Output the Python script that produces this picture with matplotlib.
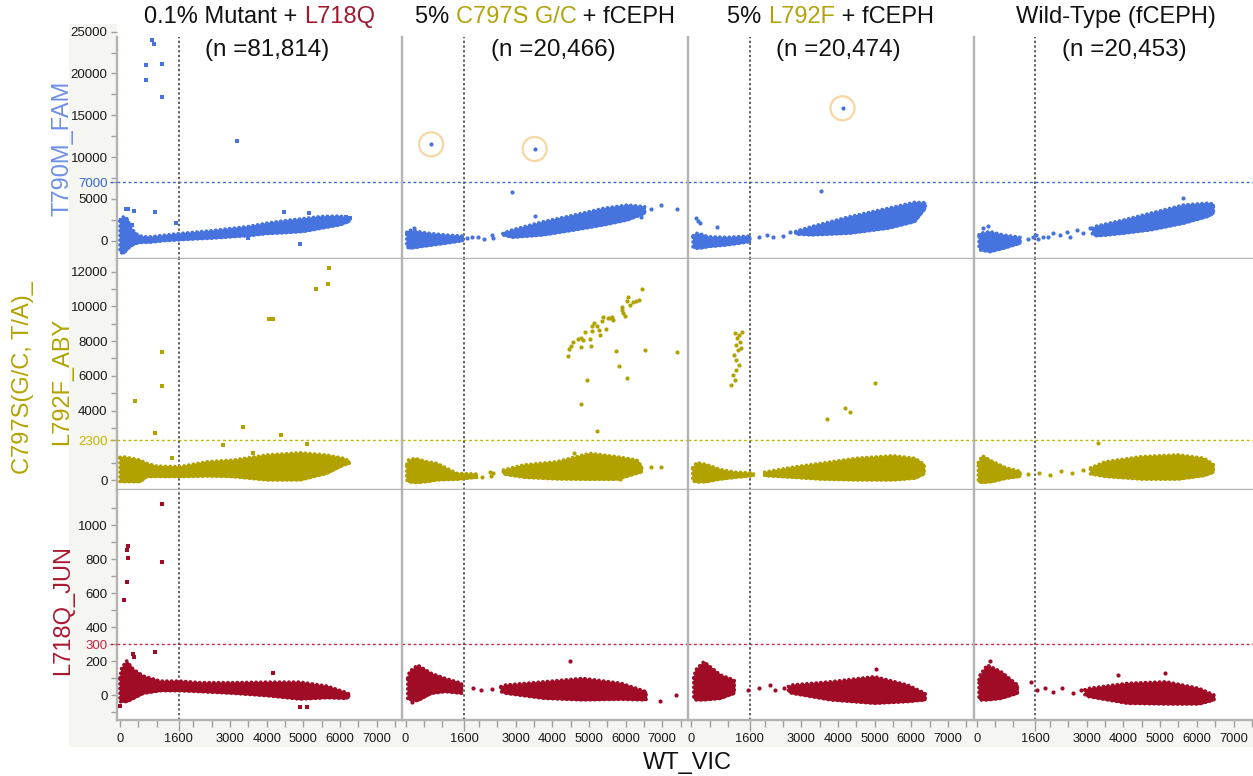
import numpy as np
import matplotlib
matplotlib.use("Agg")
import matplotlib.pyplot as plt
from matplotlib.patches import Rectangle
from matplotlib.lines import Line2D

plt.rcParams['font.family'] = ['Liberation Sans', 'DejaVu Sans']

nan = np.nan

# ---------------- titles / labels ----------------
col_title_parts = [
    [("0.1% Mutant + ", "k"), ("L718Q", "red")],
    [("5% ", "k"), ("C797S G/C", "olive"), (" + fCEPH", "k")],
    [("5% ", "k"), ("L792F", "olive"), (" + fCEPH", "k")],
    [("Wild-Type (fCEPH)", "k")],
]
col_counts = ["(n =81,814)", "(n =20,466)", "(n =20,474)", "(n =20,453)"]
x_label = "WT_VIC"
y_labels = ["T790M_FAM", "C797S(G/C, T/A)_", "L792F_ABY", "L718Q_JUN"]

# thresholds
vic_cut = 1600
fam_cut = 7000
aby_cut = 2300
jun_cut = 300

# ---------------- T790M_FAM (row 1) ----------------
fam_c1_band_x = [0, 100, 200, 300, 450, 600, 800, 1200, 1600, 2000, 2500, 3000, 3500, 4000, 4500, 5000, 5500, 6000, 6250]
fam_c1_band_lo = [-1400, -1500, -1000, -600, -300, -200, -200, 0, 100, 200, 300, 450, 600, 850, 950, 1100, 1500, 1900, 2300]
fam_c1_band_hi = [2400, 2900, 2600, 1500, 800, 500, 450, 650, 850, 1000, 1200, 1450, 1700, 2100, 2400, 2650, 2900, 2950, 2700]
fam_c1_pts_x = [864, 927, 709, 1154, 709, 1154, 3200, 160, 230, 390, 954, 1536, 18, 4480, 5163, 6155, 6270, 3500, 4917, 318]
fam_c1_pts_y = [24000, 23490, 21000, 21100, 19200, 17150, 11920, 3750, 3750, 3550, 3430, 2080, 2480, 3430, 3280, 2800, 2680, 320, -430, 1880]

fam_c2_band_x = [30, 100, 600, 1100, 1560, nan, 2650, 2900, 3750, 4600, 5400, 6050, 6520]
fam_c2_band_lo = [-700, -910, -600, -300, 0, nan, 700, 400, 680, 1280, 1880, 2480, 3280]
fam_c2_band_hi = [1000, 1280, 900, 680, 560, nan, 850, 1280, 2270, 3070, 3870, 4270, 4070]
fam_c2_pts_x = [696, 3520, 2900, 3520, 6970, 7390, 6410, 6700, 1663, 1822, 1977, 2135, 2343, 2394, 2708, 2812, 224]
fam_c2_pts_y = [11530, 10970, 5860, 2950, 4270, 3790, 2870, 3750, 287, 406, 478, 239, 682, 287, 885, 682, 1480]
fam_c2_circ_x = [696, 3520]
fam_c2_circ_y = [11530, 10970]

fam_c3_band_x = [50, 142, 300, 453, 976, 1601, nan, 2850, 3273, 4314, 5359, 6090, 6380]
fam_c3_band_lo = [-800, -910, -850, -720, -510, -120, nan, 800, 680, 885, 1480, 2270, 3870]
fam_c3_band_hi = [600, 900, 750, 480, 406, 560, nan, 1100, 1675, 2870, 3870, 4590, 4550]
fam_c3_pts_x = [4126, 3553, 693, 142, 172, 230, 1862, 2072, 2228, 2490, 2700, 2960]
fam_c3_pts_y = [15840, 5980, 1600, 2680, 2400, 2100, 406, 682, 478, 560, 1080, 1280]
fam_c3_circ_x = [4126]
fam_c3_circ_y = [15840]

fam_c4_band_x = [60, 90, 363, 727, 1181, nan, 3150, 3272, 3999, 4726, 5634, 6300, 6452]
fam_c4_band_lo = [-900, -1110, -1320, -910, -310, nan, 800, 562, 885, 1280, 2080, 2900, 3277]
fam_c4_band_hi = [700, 885, 1080, 680, 406, nan, 1500, 1758, 2476, 3277, 4270, 4500, 4390]
fam_c4_pts_x = [5634, 180, 316, 1408, 1544, 1617, 1680, 1817, 1953, 2089, 2272, 2454, 2545, 2727, 2907, 3090]
fam_c4_pts_y = [5070, 1555, 1758, 167, 407, 682, 167, 478, 407, 885, 682, 1076, 478, 1280, 885, 1483]

# ---------------- C797S/L792F_ABY (row 2) ----------------
aby_c1_band_x = [0, 91, 545, 727, 1000, 1636, 2364, 3090, 4000, 4909, 5636, 6090, 6250]
aby_c1_band_lo = [-100, -100, -100, 190, 200, 190, 230, 190, 0, 0, 380, 860, 950]
aby_c1_band_hi = [1300, 1340, 1150, 960, 800, 770, 1050, 1150, 1440, 1570, 1440, 1250, 1100]
aby_c1_pts_x = [1154, 1154, 418, 964, 3360, 4400, 4050, 4180, 5350, 5680, 5700, 2820, 5110, 1430, 3640]
aby_c1_pts_y = [7360, 5400, 4550, 2690, 3040, 2570, 9260, 9260, 11000, 11290, 12190, 1990, 2050, 1250, 1540]

aby_c2_band_x = [30, 77, 259, 578, 851, 1396, 1942, nan, 2667, 3213, 4123, 5031, 5759, 6305, 6441]
aby_c2_band_lo = [0, -98, -154, -98, 0, 38, 154, nan, 346, 154, 58, 38, 38, 384, 480]
aby_c2_band_hi = [900, 1152, 1248, 1056, 960, 384, 346, nan, 576, 864, 1056, 1536, 1344, 1152, 768]
aby_c2_pts_x = [4423, 4459, 4504, 4577, 4713, 4777, 4850, 4795, 4904, 5040, 5068, 5086, 5086, 5140, 5231,
                5268, 5304, 5359, 5377, 5459, 5522, 5577, 5622, 5650, 5904, 5913, 5940, 5995, 6031, 6077,
                6122, 6195, 6286, 6377, 6441, 5731, 5831, 6031, 6531, 7404, 4959, 4786, 5213, 6703, 6958,
                4586, 5858, 2304, 2394, 2694, 2803, 2078, 2323]
aby_c2_pts_y = [7162, 7526, 7718, 7968, 8102, 8199, 8064, 7642, 8505, 8102, 7699, 8582, 8851, 9024, 8890,
                8640, 8352, 9139, 9370, 8678, 9351, 9312, 9408, 9216, 9792, 9984, 9600, 9446, 10330, 10560,
                10080, 10272, 10330, 10368, 11000, 7450, 6566, 5894, 7488, 7373, 5760, 4378, 2822, 749, 730,
                1574, 38, 442, 384, 480, 384, 154, 230]

aby_c3_band_x = [40, 150, 400, 800, 1200, 1700, nan, 2000, 2800, 3500, 4500, 5500, 6100, 6350]
aby_c3_band_lo = [-50, -120, -100, 50, 150, 250, nan, 250, 150, 50, 0, 0, 100, 350]
aby_c3_band_hi = [700, 1000, 900, 600, 450, 400, nan, 450, 750, 950, 1250, 1400, 1250, 900]
aby_c3_pts_x = [1200, 1254, 1309, 1227, 1282, 1336, 1173, 1227, 1309, 1227, 1145, 1200, 1091, 1363, 1391,
                3709, 4200, 4336, 5018]
aby_c3_pts_y = [8468, 8180, 8353, 7776, 7488, 7949, 7200, 6912, 6624, 6336, 6048, 5760, 5472, 7603, 8525,
                3514, 4147, 3917, 5588]

aby_c4_band_x = [40, 150, 400, 800, 1180, nan, 3100, 3500, 4500, 5500, 6200, 6450]
aby_c4_band_lo = [-100, -150, -100, 100, 200, nan, 350, 200, 50, 50, 250, 450]
aby_c4_band_hi = [1000, 1400, 1100, 700, 500, nan, 700, 1050, 1350, 1450, 1250, 900]
aby_c4_pts_x = [3310, 1400, 1700, 2000, 2300, 2600, 2900]
aby_c4_pts_y = [2130, 350, 420, 300, 500, 400, 600]

# ---------------- L718Q_JUN (row 3) ----------------
jun_c1_band_x = [0, 46, 183, 363, 636, 1091, 1636, 2182, 3090, 4000, 4909, 5636, 6182, 6250]
jun_c1_band_lo = [-40, -39, -39, -20, 10, 25, 25, 20, 10, -4, -24, -16, -20, -5]
jun_c1_band_hi = [100, 160, 200, 151, 112, 82, 82, 73, 73, 76, 76, 53, 14, 5]
jun_c1_pts_x = [1154, 1154, 227, 200, 227, 200, 118, 964, 346, 391, 4181, 0, 4909, 5109]
jun_c1_pts_y = [1122, 780, 878, 851, 804, 663, 559, 251, 241, 225, 127, -65, -72, -72]

jun_c2_band_x = [60, 104, 327, 704, 1077, 1527, nan, 2600, 2730, 3780, 4830, 5880, 6556]
jun_c2_band_lo = [-20, -29, -33, 10, 20, 10, nan, 20, 10, -20, -29, -25, -29]
jun_c2_band_hi = [100, 137, 176, 127, 98, 69, nan, 50, 59, 78, 98, 69, 20]
jun_c2_pts_x = [4486, 6932, 7382, 177, 1830, 2053, 2353]
jun_c2_pts_y = [200, -33, 0, -39, 39, 29, 33]

jun_c3_band_x = [70, 120, 346, 796, 1173, nan, 2650, 2750, 3800, 5000, 5900, 6380]
jun_c3_band_lo = [-20, -29, -29, -20, 10, nan, 20, 10, -29, -49, -39, -29]
jun_c3_band_hi = [100, 147, 196, 118, 88, nan, 50, 59, 78, 108, 59, 10]
jun_c3_pts_x = [5045, 4655, 1546, 1846, 2146, 2296, 2523]
jun_c3_pts_y = [155, 94, 29, 39, 59, 29, 39]

jun_c4_band_x = [60, 90, 284, 660, 1110, nan, 2950, 3060, 4112, 5162, 6062, 6470]
jun_c4_band_lo = [-20, -29, -29, -20, 10, nan, 0, -10, -49, -53, -53, -29]
jun_c4_band_hi = [90, 118, 176, 137, 59, nan, 30, 39, 69, 78, 39, 0]
jun_c4_pts_x = [3856, 5132, 360, 1486, 1636, 1860, 2086, 2310, 2610, 2837]
jun_c4_pts_y = [118, 131, 200, 78, 29, 39, 20, 39, 10, 29]

# ---------------- styling ----------------
BLUE = '#4673dd'
OLIVE = '#b2a200'
RED = '#a00b25'
TXT_COL = {"k": "#111111", "red": "#a3182f", "olive": "#b4a40c"}
REF_BLUE = '#3566d3'
REF_OLIVE = '#c4b200'
REF_RED = '#c8243d'
SPINE = '#b3b3b3'
BG = '#f5f5f1'

W, H = 1253, 776
fig = plt.figure(figsize=(W / 100, H / 100), dpi=100)

def fx(px):
    return px / W

def fy(py):
    return 1 - py / H

# grey label strips (behind everything)
fig.patches.append(Rectangle((fx(69), fy(747)), fx(117 - 69), (747 - 24) / H,
                             transform=fig.transFigure, facecolor=BG, edgecolor='none', zorder=-10))
fig.patches.append(Rectangle((fx(69), fy(747)), fx(W - 69), (747 - 720) / H,
                             transform=fig.transFigure, facecolor=BG, edgecolor='none', zorder=-10))

col_left = [116.7 + 285.6 * i for i in range(4)]
col_w = 285.6
row_tb = [(24, 259), (259, 490), (490, 720)]
ylims = [(-2189, 25920), (-576, 12730), (-147, 1206)]
xlim = (-90, 7698)
row1_top_val = 24370

bands = [
    [(fam_c1_band_x, fam_c1_band_lo, fam_c1_band_hi), (fam_c2_band_x, fam_c2_band_lo, fam_c2_band_hi),
     (fam_c3_band_x, fam_c3_band_lo, fam_c3_band_hi), (fam_c4_band_x, fam_c4_band_lo, fam_c4_band_hi)],
    [(aby_c1_band_x, aby_c1_band_lo, aby_c1_band_hi), (aby_c2_band_x, aby_c2_band_lo, aby_c2_band_hi),
     (aby_c3_band_x, aby_c3_band_lo, aby_c3_band_hi), (aby_c4_band_x, aby_c4_band_lo, aby_c4_band_hi)],
    [(jun_c1_band_x, jun_c1_band_lo, jun_c1_band_hi), (jun_c2_band_x, jun_c2_band_lo, jun_c2_band_hi),
     (jun_c3_band_x, jun_c3_band_lo, jun_c3_band_hi), (jun_c4_band_x, jun_c4_band_lo, jun_c4_band_hi)],
]
points = [
    [(fam_c1_pts_x, fam_c1_pts_y), (fam_c2_pts_x, fam_c2_pts_y), (fam_c3_pts_x, fam_c3_pts_y), (fam_c4_pts_x, fam_c4_pts_y)],
    [(aby_c1_pts_x, aby_c1_pts_y), (aby_c2_pts_x, aby_c2_pts_y), (aby_c3_pts_x, aby_c3_pts_y), (aby_c4_pts_x, aby_c4_pts_y)],
    [(jun_c1_pts_x, jun_c1_pts_y), (jun_c2_pts_x, jun_c2_pts_y), (jun_c3_pts_x, jun_c3_pts_y), (jun_c4_pts_x, jun_c4_pts_y)],
]
circled = {(0, 1): (fam_c2_circ_x, fam_c2_circ_y), (0, 2): (fam_c3_circ_x, fam_c3_circ_y)}
row_colors = [BLUE, OLIVE, RED]
ref_vals = [fam_cut, aby_cut, jun_cut]
ref_cols = [REF_BLUE, REF_OLIVE, REF_RED]

ytick_major = [[0, 5000, fam_cut, 10000, 15000, 20000, 25000],
               [0, aby_cut, 4000, 6000, 8000, 10000, 12000],
               [0, 200, jun_cut, 400, 600, 800, 1000]]
ytick_minor = [[2500, 7500, 12500, 17500, 22500],
               [1000, 3000, 5000, 7000, 9000, 11000],
               [-100, 100, 500, 700, 900, 1100]]
xtick_major = [0, vic_cut, 3000, 4000, 5000, 6000, 7000]
xtick_minor = [500, 1000, 2000, 2500, 3500, 4500, 5500, 6500, 7500]


def draw_band(ax, bx, lo, hi, color):
    bx = np.asarray(bx, float)
    lo = np.asarray(lo, float)
    hi = np.asarray(hi, float)
    cuts = list(np.where(np.isnan(bx))[0])
    starts = [0] + [c + 1 for c in cuts]
    ends = cuts + [len(bx)]
    for s, e in zip(starts, ends):
        ax.fill_between(bx[s:e], lo[s:e], hi[s:e], facecolor=color, edgecolor=color,
                        linewidth=1.0, zorder=3)
        # beaded outline so the cloud edge looks made of dots
        ox = np.concatenate([bx[s:e], bx[s:e][::-1], bx[s:s + 1]])
        oy = np.concatenate([hi[s:e], lo[s:e][::-1], hi[s:s + 1]])
        ax.plot(ox, oy, color=color, linewidth=2.6, linestyle=(0, (0.05, 1.25)),
                dash_capstyle='round', zorder=3)


for r in range(3):
    top, bot = row_tb[r]
    for c in range(4):
        ax = fig.add_axes([fx(col_left[c]), fy(bot), col_w / W, (bot - top) / H])
        ax.set_zorder(1)
        ax.set_xlim(*xlim)
        ax.set_ylim(*ylims[r])
        ax.set_facecolor('white')
        for s in ['top', 'right']:
            ax.spines[s].set_visible(False)
        for s in ['left', 'bottom']:
            ax.spines[s].set_color(SPINE)
            ax.spines[s].set_linewidth(1.7)
        if r == 0:
            ax.spines['left'].set_bounds(ylims[0][0], row1_top_val)

        color = row_colors[r]
        bx, lo, hi = bands[r][c]
        draw_band(ax, bx, lo, hi, color)
        px_, py_ = points[r][c]
        if c == 0:
            ax.scatter(px_, py_, s=7, marker='s', color=color, linewidths=0, zorder=4)
        else:
            ax.scatter(px_, py_, s=9, marker='o', color=color, linewidths=0, zorder=4)
        if (r, c) in circled:
            cx, cy = circled[(r, c)]
            ax.scatter(cx, cy, s=300, marker='o', facecolors='none', edgecolors='#f6d6a2',
                       linewidths=1.6, zorder=5)

        # reference lines
        ax.axhline(ref_vals[r], color=ref_cols[r], linestyle=(0, (2, 2)), linewidth=1.0, zorder=2)
        vtop = row1_top_val if r == 0 else ylims[r][1]
        ax.plot([vic_cut, vic_cut], [ylims[r][0], vtop], color='#555555',
                linestyle=(0, (1.3, 1.3)), linewidth=1.3, zorder=2)

        # ticks
        ax.tick_params(which='both', direction='out', length=4, width=1, color='#a0a0a0',
                       labelsize=9.5, labelcolor='#1a1a1a', pad=2.5)
        if c == 0:
            ax.set_yticks(ytick_major[r])
            ax.set_yticks(ytick_minor[r], minor=True)
            ax.set_yticklabels([str(v) for v in ytick_major[r]])
            for lab, v in zip(ax.get_yticklabels(), ytick_major[r]):
                if v == ref_vals[r]:
                    lab.set_color(ref_cols[r])
        else:
            ax.set_yticks([])
            ax.set_yticks([], minor=True)
        if r == 2:
            ax.set_xticks(xtick_major)
            ax.set_xticks(xtick_minor, minor=True)
            ax.set_xticklabels([str(v) for v in xtick_major])
            ax.tick_params(axis='x', which='both', length=5, pad=4, labelsize=9.3)
            for tk, v in zip(ax.xaxis.get_major_ticks(), xtick_major):
                if v == vic_cut:
                    tk.tick1line.set_color('#444444')
                    tk.tick1line.set_markersize(8)
        else:
            ax.set_xticks([])
            ax.set_xticks([], minor=True)

# extend reference lines into the label strip
ref_px_y = [240.7 - 7000 * 0.00836, 480 - 2300 * 0.01736, 695 - 300 * 0.17]
for ypx, colr in zip(ref_px_y, ref_cols):
    fig.add_artist(Line2D([fx(110), fx(117)], [fy(ypx), fy(ypx)], transform=fig.transFigure,
                          color=colr, linestyle=(0, (2, 2)), linewidth=1.0, zorder=2))

# axis labels
fig.text(fx(63), fy(148), y_labels[0], rotation=90, ha='center', va='center',
         fontsize=17, color='#6d8fe6')
fig.text(fx(23), fy(378), y_labels[1], rotation=90, ha='center', va='center',
         fontsize=17, color='#b3a300')
fig.text(fx(62.5), fy(381), y_labels[2], rotation=90, ha='center', va='center',
         fontsize=17, color='#b3a300')
fig.text(fx(63), fy(610), y_labels[3], rotation=90, ha='center', va='center',
         fontsize=17, color='#ab1830')
fig.text(fx(687), fy(763), x_label, ha='center', va='center', fontsize=17, color='#111111')

# column titles (multi-coloured)
fig.canvas.draw()
rend = fig.canvas.get_renderer()
TSIZE = 17


def text_width(s):
    t = fig.text(0, 0, s, fontsize=TSIZE)
    w = t.get_window_extent(renderer=rend).width
    t.remove()
    return w


for c in range(4):
    xc = col_left[c] + col_w / 2
    parts = col_title_parts[c]
    full = "".join(p[0] for p in parts)
    fw = text_width(full)
    x0 = xc - fw / 2
    acc = ""
    for s, key in parts:
        acc += s
        right = x0 + text_width(acc)
        fig.text(fx(right), fy(17), s, fontsize=TSIZE, ha='right', va='center',
                 color=TXT_COL[key], zorder=5)
    fig.text(fx(xc + 8), fy(50), col_counts[c], fontsize=17.5, ha='center', va='center',
             color='#111111', zorder=5)

fig.savefig("out.png", dpi=100)
